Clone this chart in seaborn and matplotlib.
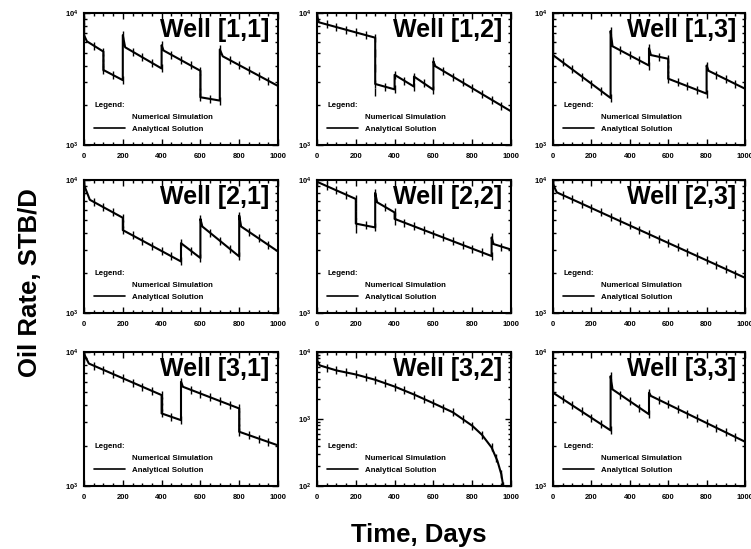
import numpy as np
import pandas as pd
import matplotlib
matplotlib.use("Agg")
import matplotlib.pyplot as plt
import seaborn as sns
from matplotlib.ticker import MultipleLocator, LogLocator, NullFormatter
from matplotlib.lines import Line2D

# ---------------- data ----------------
well_titles = ["Well [1,1]", "Well [1,2]", "Well [1,3]",
               "Well [2,1]", "Well [2,2]", "Well [2,3]",
               "Well [3,1]", "Well [3,2]", "Well [3,3]"]
x_ticks = [0, 200, 400, 600, 800, 1000]
x_tick_labels = ["0", "200", "400", "600", "800", "1000"]
legend_labels = ["Numerical Simulation", "Analytical Solution"]

# Well [1,1]
a_days_11 = [0, 15, 100, 100, 200, 200, 212, 400, 400, 410, 600, 600, 700, 700, 715, 1000]
a_rate_11 = [6800, 6100, 5100, 3700, 3100, 6800, 5500, 3800, 5700, 5200, 3650, 2300, 2170, 5300, 4700, 2800]
n_days_11 = [0, 0, 0, 50, 100, 100, 100, 100, 100, 150, 200, 200, 250, 300, 350, 400, 400, 450, 500,
             550, 600, 600, 600, 600, 600, 650, 700, 700, 750, 800, 850, 900, 950, 1000]
n_rate_11 = [8900, 7800, 6800, 5670, 5100, 4600, 4200, 3900, 3700, 3390, 3100, 6800, 5100, 4630, 4190,
             3800, 5700, 4830, 4400, 4010, 3650, 3200, 2800, 2500, 2300, 2230, 2170, 5300, 4410, 4030,
             3680, 3360, 3070, 2800]

# Well [1,2]
a_days_12 = [0, 10, 300, 300, 400, 400, 500, 500, 600, 600, 610, 1000]
a_rate_12 = [9500, 8500, 6500, 2900, 2640, 3400, 2770, 3300, 2620, 4300, 3950, 1800]
n_days_12 = [0, 0, 50, 100, 150, 200, 250, 300, 300, 300, 300, 300, 350, 400, 400, 450, 500, 500,
             550, 600, 600, 650, 700, 750, 800, 850, 900, 950, 1000]
n_rate_12 = [9900, 9200, 8190, 7820, 7470, 7130, 6810, 6500, 5000, 3800, 2500, 2900, 2770, 2640, 3400,
             3070, 2770, 3300, 2940, 2620, 4300, 3640, 3300, 2980, 2690, 2430, 2200, 1990, 1800]

# Well [1,3]
a_days_13 = [0, 300, 300, 310, 500, 500, 510, 600, 600, 800, 800, 810, 1000]
a_rate_13 = [4800, 2270, 7300, 5600, 4000, 5400, 4800, 4500, 3180, 2450, 4000, 3650, 2670]
n_days_13 = [0, 0, 0, 50, 100, 150, 200, 250, 300, 300, 350, 400, 450, 500, 500, 550, 600, 600, 600,
             600, 600, 650, 700, 750, 800, 800, 850, 900, 950, 1000]
n_rate_13 = [6300, 5500, 4800, 4240, 3740, 3300, 2910, 2570, 2270, 7300, 5220, 4770, 4370, 4000, 5400,
             4650, 4500, 4100, 3750, 3400, 3180, 2980, 2790, 2620, 2450, 4000, 3420, 3150, 2900, 2670]

# Well [2,1]
a_days_21 = [0, 30, 200, 200, 500, 500, 600, 600, 610, 800, 800, 810, 1000]
a_rate_21 = [9200, 7100, 5200, 4200, 2440, 3350, 2590, 5100, 4470, 2660, 5400, 4470, 2900]
n_days_21 = [0, 0, 0, 50, 100, 150, 200, 200, 200, 250, 300, 350, 400, 450, 500, 500, 550, 600, 600,
             650, 700, 750, 800, 800, 850, 900, 950, 1000]
n_rate_21 = [9800, 9000, 8300, 6850, 6250, 5700, 5200, 4700, 4200, 3840, 3500, 3200, 2920, 2670, 2440,
             3350, 2950, 2590, 5100, 4010, 3500, 3050, 2660, 5400, 4080, 3640, 3250, 2900]

# Well [2,2]
a_days_22 = [0, 200, 200, 300, 300, 310, 400, 400, 900, 900, 910, 1000]
a_rate_22 = [9700, 7200, 4700, 4400, 8000, 6800, 5700, 5100, 2680, 3700, 3300, 3000]
n_days_22 = [0, 50, 100, 150, 200, 200, 200, 200, 200, 250, 300, 300, 350, 400, 400, 400, 450, 500,
             550, 600, 650, 700, 750, 800, 850, 900, 900, 950, 1000]
n_rate_22 = [9800, 9000, 8360, 7760, 7200, 6300, 5500, 4800, 4300, 4550, 4400, 8000, 6290, 5700, 5400,
             4900, 4780, 4490, 4210, 3950, 3710, 3470, 3250, 3050, 2860, 2680, 3700, 3160, 3000]

# Well [2,3]
a_days_23 = [0, 20, 1000]
a_rate_23 = [9300, 8070, 1840]
n_days_23 = [0, 0, 0, 50, 100, 150, 200, 250, 300, 350, 400, 450, 500, 550, 600, 650, 700, 750, 800,
             850, 900, 950, 1000]
n_rate_23 = [9800, 9300, 8700, 7710, 7150, 6630, 6150, 5700, 5290, 4900, 4550, 4220, 3920, 3630, 3360,
             3120, 2890, 2680, 2490, 2310, 2140, 1980, 1840]

# Well [3,1]
a_days_31 = [0, 25, 400, 400, 500, 500, 510, 800, 800, 1000]
a_rate_31 = [9700, 8200, 4770, 3480, 3100, 6000, 5500, 3790, 2540, 2010]
n_days_31 = [0, 0, 0, 50, 100, 150, 200, 250, 300, 350, 400, 400, 400, 400, 450, 500, 500, 550, 600,
             650, 700, 750, 800, 800, 800, 800, 800, 850, 900, 950, 1000]
n_rate_31 = [10000, 9400, 8800, 7910, 7360, 6840, 6370, 5920, 5510, 5130, 4770, 4300, 3900, 3480, 3290,
             3100, 6000, 5230, 4900, 4600, 4310, 4040, 3790, 3400, 3000, 2700, 2540, 2400, 2260, 2130, 2010]

# Well [3,2]
a_days_32 = [0, 14, 100, 200, 300, 400, 500, 600, 700, 800, 850, 900, 930, 950, 960]
a_rate_32 = [7500, 6310, 5310, 4620, 3850, 3050, 2320, 1720, 1260, 794, 582, 376, 237, 150, 100]
n_days_32 = [0, 0, 0, 50, 100, 150, 200, 250, 300, 350, 400, 450, 500, 550, 600, 650, 700, 750, 800,
             850, 900, 925, 950, 960]
n_rate_32 = [9500, 8500, 7500, 5800, 5310, 4950, 4620, 4230, 3850, 3440, 3050, 2670, 2320, 2000, 1720,
             1480, 1260, 1010, 794, 582, 376, 260, 150, 100]

# Well [3,3]
a_days_33 = [0, 300, 300, 310, 500, 500, 510, 1000]
a_rate_33 = [4970, 2600, 6600, 5260, 3430, 4970, 4700, 2140]
n_days_33 = [0, 0, 0, 50, 100, 150, 200, 250, 300, 300, 350, 400, 450, 500, 500, 550, 600, 650, 700,
             750, 800, 850, 900, 950, 1000]
n_rate_33 = [6900, 6000, 5200, 4460, 4010, 3600, 3230, 2900, 2600, 6600, 4810, 4300, 3840, 3430, 4970,
             4410, 4070, 3750, 3460, 3200, 2950, 2720, 2510, 2320, 2140]

analytical = [(a_days_11, a_rate_11), (a_days_12, a_rate_12), (a_days_13, a_rate_13),
              (a_days_21, a_rate_21), (a_days_22, a_rate_22), (a_days_23, a_rate_23),
              (a_days_31, a_rate_31), (a_days_32, a_rate_32), (a_days_33, a_rate_33)]
numerical = [(n_days_11, n_rate_11), (n_days_12, n_rate_12), (n_days_13, n_rate_13),
             (n_days_21, n_rate_21), (n_days_22, n_rate_22), (n_days_23, n_rate_23),
             (n_days_31, n_rate_31), (n_days_32, n_rate_32), (n_days_33, n_rate_33)]
y_ranges = [(1e3, 1e4)] * 7 + [(1e2, 1e4)] + [(1e3, 1e4)]

# ---------------- style ----------------
sns.set_style("ticks")
plt.rcParams["font.family"] = ["Liberation Sans", "DejaVu Sans"]
plt.rcParams["text.color"] = "black"
plt.rcParams["xtick.color"] = "black"
plt.rcParams["ytick.color"] = "black"
plt.rcParams["xtick.labelcolor"] = "black"
plt.rcParams["ytick.labelcolor"] = "black"
plt.rcParams["mathtext.fontset"] = "custom"
plt.rcParams["mathtext.rm"] = "Liberation Sans:bold"
plt.rcParams["mathtext.it"] = "Liberation Sans:bold"
plt.rcParams["mathtext.bf"] = "Liberation Sans:bold"

W, H = 751, 549
fig = plt.figure(figsize=(W / 100, H / 100), dpi=100)
fig.patch.set_facecolor("white")

col_left = [84, 317, 553]
col_width = [194, 194, 192]
row_top = [13, 180, 352]
row_height = [132, 133, 134]

for i, title in enumerate(well_titles):
    r, c = divmod(i, 3)
    rect = [col_left[c] / W, (H - row_top[r] - row_height[r]) / H,
            col_width[c] / W, row_height[r] / H]
    ax = fig.add_axes(rect)
    ax.set_yscale("log")
    ax.set_xlim(0, 1000)
    ax.set_ylim(*y_ranges[i])

    nd, nr = numerical[i]
    ad, ar = analytical[i]
    df_n = pd.DataFrame({"Day": nd, "Rate": nr})
    df_a = pd.DataFrame({"Day": ad, "Rate": ar})
    sns.scatterplot(data=df_n, x="Day", y="Rate", ax=ax, marker="|", color="black",
                    s=30, linewidth=1.0, zorder=3)
    sns.lineplot(data=df_a, x="Day", y="Rate", ax=ax, color="black", lw=1.5,
                 estimator=None, sort=False, zorder=4)
    ax.set_xlabel("")
    ax.set_ylabel("")

    ax.set_xticks(x_ticks, x_tick_labels, fontsize=5.5, fontweight="bold")
    ax.xaxis.set_minor_locator(MultipleLocator(50))
    lo, hi = y_ranges[i]
    exps = list(range(int(round(np.log10(lo))), int(round(np.log10(hi))) + 1))
    ax.set_yticks([10.0 ** e for e in exps], [r"$10^{%d}$" % e for e in exps], fontsize=5.5)
    ax.yaxis.set_minor_locator(LogLocator(base=10, subs=np.arange(2, 10)))
    ax.yaxis.set_minor_formatter(NullFormatter())
    ax.tick_params(which="both", direction="in", top=True, right=True, width=1.0,
                   color="black", labelcolor="black")
    ax.tick_params(which="major", length=4.5)
    ax.tick_params(which="minor", length=2.5)
    ax.tick_params(axis="x", which="major", pad=6)
    ax.tick_params(axis="y", which="major", pad=4)
    for sp in ax.spines.values():
        sp.set_linewidth(1.5)
        sp.set_color("black")

    ax.text(0.955, 0.965, title, transform=ax.transAxes, ha="right", va="top",
            fontsize=18, fontweight="bold", color="black")

    h_num = Line2D([], [], linestyle="none", marker="")
    h_ana = Line2D([], [], color="black", lw=1.2)
    leg = ax.legend([h_num, h_ana], legend_labels, title="Legend:", loc="lower left",
                    bbox_to_anchor=(0.025, 0.05), frameon=False,
                    prop={"weight": "bold", "size": 5.7},
                    title_fontproperties={"weight": "bold", "size": 5.7},
                    handlelength=3.9, handletextpad=0.8, labelspacing=0.55,
                    alignment="left", borderpad=0.2, labelcolor="black")
    leg.get_title().set_color("black")

fig.text(0.04, 0.486, "Oil Rate, STB/D", rotation=90, ha="center", va="center",
         fontsize=18.5, fontweight="bold", color="black")
fig.text(0.558, 0.025, "Time, Days", ha="center", va="center",
         fontsize=18.5, fontweight="bold", color="black")

fig.savefig("out.png", dpi=100, facecolor="white")
